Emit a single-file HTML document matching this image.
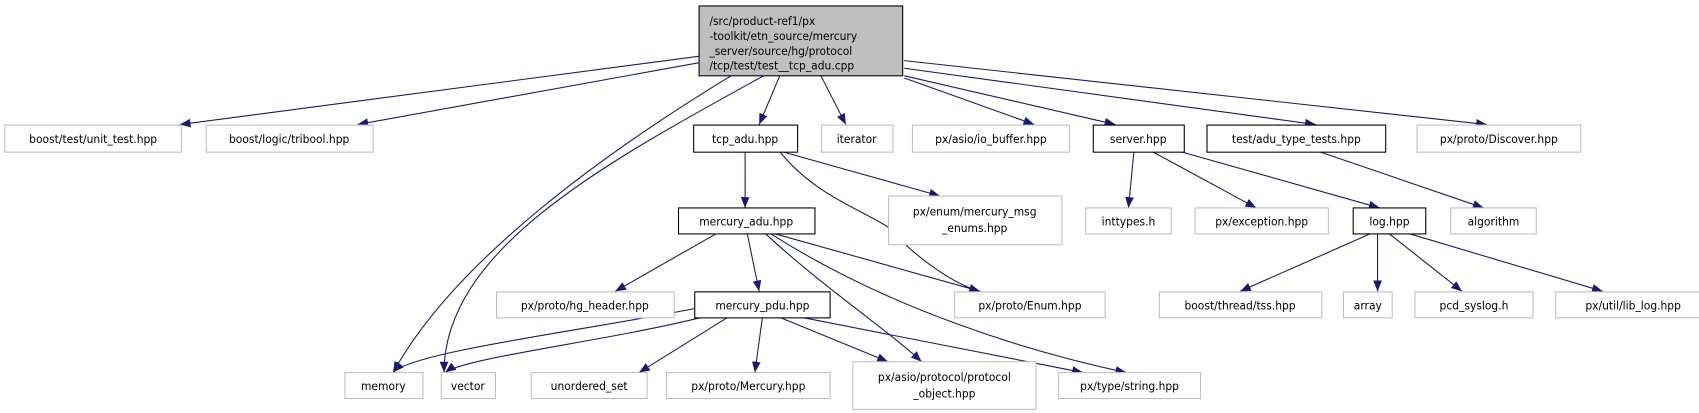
<!DOCTYPE html>
<html><head><meta charset="utf-8"><style>
html,body{margin:0;padding:0;background:#fff}
svg{display:block}
text{font-family:"DejaVu Sans Condensed","DejaVu Sans","Liberation Sans",sans-serif;font-size:11px;fill:#000}
.g{fill:#fff;stroke:#bfbfbf;stroke-width:1}
.b{fill:#fff;stroke:#000;stroke-width:1}
.e{fill:none;stroke:#191970;stroke-width:1}
</style></head><body>
<svg width="1699" height="413" viewBox="0 0 1699 413" xmlns="http://www.w3.org/2000/svg">
<defs><marker id="a" markerWidth="10" markerHeight="8" refX="10" refY="4" orient="auto" markerUnits="userSpaceOnUse"><path d="M0,0 L10,4 L0,8 z" fill="#191970"/></marker></defs>
<g transform="scale(1.083)">
<g class="e" marker-end="url(#a)">
<path d="M645,52 L166,115"/>
<path d="M645,58 L330,115"/>
<path d="M675,70 C560,140 420,240 363,344"/>
<path d="M705,70 C560,150 410,230 410,344"/>
<path d="M720,70 L701,115"/>
<path d="M758,70 L781,115"/>
<path d="M835,72 L955,115"/>
<path d="M835,70 L1030,115"/>
<path d="M835,63 L1215,115"/>
<path d="M835,56 L1373,115"/>
<path d="M688,140 L688,192"/>
<path d="M720,140 C760,190 820,200 830,220 C850,240 880,262 905,269"/>
<path d="M722,140 L868,181"/>
<path d="M1047,140 L1042,192"/>
<path d="M1064,140 L1160,192"/>
<path d="M1090,140 L1274,192"/>
<path d="M1218,140 L1370,192"/>
<path d="M661,216 L568,269"/>
<path d="M690,216 L701,269"/>
<path d="M716,216 L905,269"/>
<path d="M707,216 C760,265 820,305 851,334"/>
<path d="M712,216 C820,285 950,325 1040,344"/>
<path d="M641,285 C540,305 380,325 363,344"/>
<path d="M648,293 C560,315 430,330 411,344"/>
<path d="M672,293 L590,344"/>
<path d="M704,293 L697,344"/>
<path d="M720,293 L820,334"/>
<path d="M740,293 L1000,344"/>
<path d="M1265,216 L1145,269"/>
<path d="M1272,216 L1272,269"/>
<path d="M1283,216 L1350,269"/>
<path d="M1302,216 L1480,269"/>
</g>
<rect x="645.5" y="5.5" width="188" height="64.5" fill="#bfbfbf" stroke="#000"/>
<text x="655" y="23">/src/product-ref1/px</text>
<text x="655" y="37">-toolkit/etn_source/mercury</text>
<text x="655" y="51">_server/source/hg/protocol</text>
<text x="655" y="64">/tcp/test/test__tcp_adu.cpp</text>
<rect class="g" x="4.5" y="115.5" width="163" height="25"/><text x="86" y="132" text-anchor="middle">boost/test/unit_test.hpp</text>
<rect class="g" x="190.5" y="115.5" width="154" height="25"/><text x="267" y="132" text-anchor="middle">boost/logic/tribool.hpp</text>
<rect class="b" x="640.5" y="115.5" width="96" height="25"/><text x="688" y="132" text-anchor="middle">tcp_adu.hpp</text>
<rect class="g" x="758.5" y="115.5" width="66" height="25"/><text x="791" y="132" text-anchor="middle">iterator</text>
<rect class="g" x="842.5" y="115.5" width="145" height="25"/><text x="915" y="132" text-anchor="middle">px/asio/io_buffer.hpp</text>
<rect class="b" x="1009.5" y="115.5" width="84" height="25"/><text x="1051" y="132" text-anchor="middle">server.hpp</text>
<rect class="b" x="1114.5" y="115.5" width="165" height="25"/><text x="1197" y="132" text-anchor="middle">test/adu_type_tests.hpp</text>
<rect class="g" x="1308.5" y="115.5" width="151" height="25"/><text x="1384" y="132" text-anchor="middle">px/proto/Discover.hpp</text>
<rect class="b" x="626.5" y="192" width="126" height="24"/><text x="689" y="208" text-anchor="middle">mercury_adu.hpp</text>
<rect class="g" x="820.5" y="181" width="160" height="45"/><text x="900" y="199" text-anchor="middle">px/enum/mercury_msg</text><text x="900" y="214" text-anchor="middle">_enums.hpp</text>
<rect class="g" x="1002.5" y="192" width="79" height="24"/><text x="1042" y="208" text-anchor="middle">inttypes.h</text>
<rect class="g" x="1103.5" y="192" width="123" height="24"/><text x="1165" y="208" text-anchor="middle">px/exception.hpp</text>
<rect class="b" x="1249.5" y="192" width="67" height="24"/><text x="1283" y="208" text-anchor="middle">log.hpp</text>
<rect class="g" x="1339.5" y="192" width="79" height="24"/><text x="1379" y="208" text-anchor="middle">algorithm</text>
<rect class="g" x="458.5" y="269.5" width="164" height="24"/><text x="540" y="286" text-anchor="middle">px/proto/hg_header.hpp</text>
<rect class="b" x="641.5" y="269.5" width="125" height="24"/><text x="704" y="286" text-anchor="middle">mercury_pdu.hpp</text>
<rect class="g" x="881.5" y="269.5" width="139" height="24"/><text x="951" y="286" text-anchor="middle">px/proto/Enum.hpp</text>
<rect class="g" x="1070.5" y="269.5" width="150" height="24"/><text x="1145" y="286" text-anchor="middle">boost/thread/tss.hpp</text>
<rect class="g" x="1240.5" y="269.5" width="45" height="24"/><text x="1263" y="286" text-anchor="middle">array</text>
<rect class="g" x="1306.5" y="269.5" width="109" height="24"/><text x="1361" y="286" text-anchor="middle">pcd_syslog.h</text>
<rect class="g" x="1436.5" y="269.5" width="144" height="24"/><text x="1508" y="286" text-anchor="middle">px/util/lib_log.hpp</text>
<rect class="g" x="318.5" y="344" width="72" height="24"/><text x="354" y="360" text-anchor="middle">memory</text>
<rect class="g" x="407.5" y="344" width="50" height="24"/><text x="432" y="360" text-anchor="middle">vector</text>
<rect class="g" x="490.5" y="344" width="107" height="24"/><text x="544" y="360" text-anchor="middle">unordered_set</text>
<rect class="g" x="615.5" y="344" width="151" height="24"/><text x="691" y="360" text-anchor="middle">px/proto/Mercury.hpp</text>
<rect class="g" x="787.5" y="334" width="169" height="44"/><text x="872" y="352" text-anchor="middle">px/asio/protocol/protocol</text><text x="872" y="367" text-anchor="middle">_object.hpp</text>
<rect class="g" x="977.5" y="344" width="131" height="24"/><text x="1043" y="360" text-anchor="middle">px/type/string.hpp</text>
</g>
</svg>
</body></html>
